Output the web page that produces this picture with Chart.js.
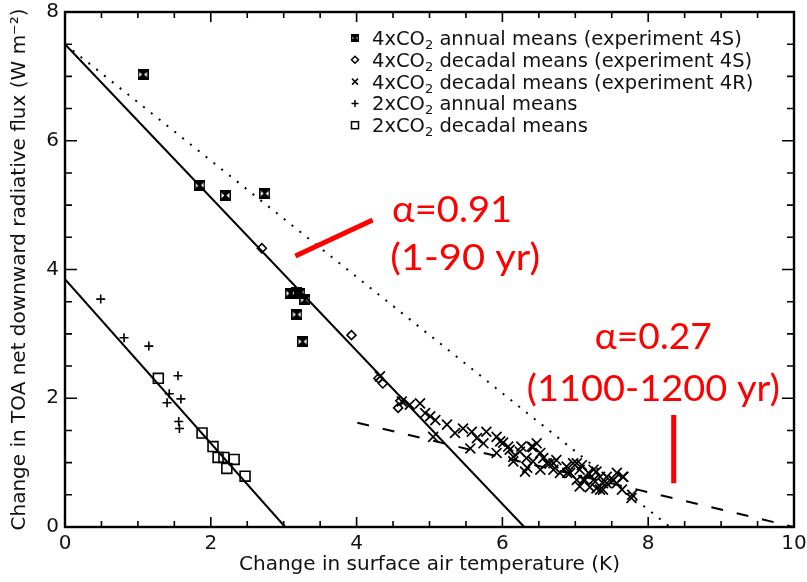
<!DOCTYPE html>
<html>
<head>
<meta charset="utf-8">
<script src="https://cdn.jsdelivr.net/npm/chart.js@4.4.1/dist/chart.umd.min.js"></script>
<style>
  html, body { margin: 0; padding: 0; background: #fff; }
  #wrap { width: 807px; height: 582px; }
</style>
</head>
<body>
<div id="wrap"><canvas id="chart" width="807" height="582"></canvas></div>
<script>
// 4xCO2 annual means (experiment 4S)
const ann4S_T = [1.07, 1.85, 2.20, 2.74, 3.09, 3.18, 3.22, 3.29, 3.18, 3.26];
const ann4S_F = [7.03, 5.31, 5.15, 5.18, 3.63, 3.64, 3.63, 3.53, 3.30, 2.88];

// 4xCO2 decadal means (experiment 4S)
const dec4S_T = [2.70, 3.93, 4.30, 4.36, 4.60, 4.57];
const dec4S_F = [4.33, 2.98, 2.31, 2.23, 1.96, 1.85];

// 4xCO2 decadal means (experiment 4R)
const dec4R_T = [4.32, 4.62, 4.73, 4.87, 4.94, 5.01, 5.08, 5.24, 5.05, 5.35, 5.46, 5.58, 5.65, 5.78,
  5.74, 5.56, 5.97, 5.92, 6.10, 6.24, 6.40, 6.33, 6.31, 6.52, 6.61, 6.74, 6.70, 6.88, 6.97, 7.06,
  7.06, 7.18, 7.29, 7.38, 7.43, 7.52, 7.66, 7.77, 7.25, 7.34, 7.13, 6.79, 6.52, 6.42, 6.01, 6.42,
  6.34, 6.65, 7.02, 7.11, 7.34, 7.38, 7.65, 7.78, 6.15, 6.89, 7.20, 7.52,
  6.08, 6.26, 6.56, 6.70, 6.93, 7.02, 7.25, 7.43, 7.57, 7.64, 7.29, 7.57, 7.09, 6.15, 5.92, 6.47];
const dec4R_F = [2.34, 1.95, 1.90, 1.92, 1.77, 1.72, 1.66, 1.59, 1.40, 1.46, 1.53, 1.48, 1.38, 1.48,
  1.30, 1.22, 1.33, 1.15, 1.20, 1.17, 1.25, 1.07, 0.86, 1.15, 0.99, 1.04, 0.89, 0.94, 0.99, 0.89,
  0.63, 0.84, 0.86, 0.68, 0.78, 0.73, 0.78, 0.45, 0.73, 0.58, 0.73, 0.84, 0.89, 1.02, 1.31, 1.24,
  0.92, 0.99, 0.99, 0.73, 0.78, 0.58, 0.78, 0.50, 1.09, 0.84, 0.62, 0.73,
  1.25, 1.25, 1.07, 0.99, 0.84, 0.73, 0.89, 0.68, 0.68, 0.58, 0.60, 0.84, 0.96, 1.02, 1.40, 1.30];

// 2xCO2 annual means
const ann2x_T = [0.49, 0.81, 1.15, 1.55, 1.43, 1.40, 1.59, 1.56, 1.57];
const ann2x_F = [3.54, 2.94, 2.81, 2.35, 2.07, 1.93, 1.99, 1.64, 1.53];

// 2xCO2 decadal means
const dec2x_T = [1.28, 1.88, 2.03, 2.10, 2.18, 2.22, 2.32, 2.47];
const dec2x_F = [2.31, 1.46, 1.25, 1.08, 1.08, 0.91, 1.05, 0.79];

// regression lines (end points)
const fit4x_T = [0, 6.30];
const fit4x_F = [7.50, 0];
const fit2x_T = [0, 3.02];
const fit2x_F = [3.85, 0];
const early_T = [0, 8.30];
const early_F = [7.50, 0];
const late_T = [4.01, 10];
const late_F = [1.62, 0];

// red pointer marks
const ptr1_T = [3.16, 4.22];
const ptr1_F = [4.21, 4.77];
const ptr2_T = [8.35, 8.35];
const ptr2_F = [1.74, 0.68];

const xTicks = [0, 2, 4, 6, 8, 10];
const yTicks = [0, 2, 4, 6, 8];

const pts = (xs, ys) => xs.map((v, i) => ({ x: v, y: ys[i] }));

function bowtie(s) {
  const c = document.createElement('canvas');
  c.width = s; c.height = s;
  const g = c.getContext('2d');
  g.fillStyle = '#000';
  g.beginPath(); g.moveTo(0, 0); g.lineTo(s, 0); g.lineTo(s / 2, s / 2); g.closePath(); g.fill();
  g.beginPath(); g.moveTo(0, s); g.lineTo(s, s); g.lineTo(s / 2, s / 2); g.closePath(); g.fill();
  g.strokeStyle = '#000'; g.lineWidth = 1.6;
  g.strokeRect(0.8, 0.8, s - 1.6, s - 1.6);
  g.beginPath(); g.moveTo(0, 0); g.lineTo(s, s); g.moveTo(s, 0); g.lineTo(0, s); g.stroke();
  return c;
}
const bowBig = bowtie(11);
const bowSmall = bowtie(8);

const legendRows = [
  { pre: '4x', rest: ' annual means (experiment 4S)', mark: 'bow' },
  { pre: '4x', rest: ' decadal means (experiment 4S)', mark: 'diamond' },
  { pre: '4x', rest: ' decadal means (experiment 4R)', mark: 'x' },
  { pre: '2x', rest: ' annual means', mark: 'plus' },
  { pre: '2x', rest: ' decadal means', mark: 'square' }
];

const notes = [
  { text: 'α=0.91', x: 5.31, y: 4.93, w: 120 },
  { text: '(1-90 yr)', x: 5.49, y: 4.18, w: 150 },
  { text: 'α=0.27', x: 8.07, y: 2.95, w: 117 },
  { text: '(1100-1200 yr)', x: 8.07, y: 2.15, w: 253 }
];

// frame + inward ticks on all four sides
const frameTicks = {
  id: 'frameTicks',
  afterDatasetsDraw(chart) {
    const { ctx, chartArea: a, scales: { x, y } } = chart;
    ctx.save();
    ctx.strokeStyle = '#000';
    ctx.lineWidth = 1.6;
    ctx.beginPath();
    for (let v = 0; v <= 10; v += 0.5) {
      const px = x.getPixelForValue(v);
      const len = v % 2 === 0 ? 10 : 6;
      ctx.moveTo(px, a.bottom); ctx.lineTo(px, a.bottom - len);
      ctx.moveTo(px, a.top); ctx.lineTo(px, a.top + len);
    }
    for (let v = 0; v <= 8; v += 0.5) {
      const py = y.getPixelForValue(v);
      const len = v % 2 === 0 ? 12 : 7;
      ctx.moveTo(a.left, py); ctx.lineTo(a.left + len, py);
      ctx.moveTo(a.right, py); ctx.lineTo(a.right - len, py);
    }
    ctx.stroke();
    ctx.lineWidth = 2.4;
    ctx.strokeRect(a.left, a.top, a.right - a.left, a.bottom - a.top);
    ctx.restore();
  }
};

// legend box top-right and red notes
const extras = {
  id: 'extras',
  afterDraw(chart) {
    const { ctx, chartArea: a, scales: { x, y } } = chart;
    ctx.save();
    const mx = a.left + 290, tx = a.left + 307;
    legendRows.forEach((r, i) => {
      const cy = a.top + 26 + i * 21.8;
      ctx.strokeStyle = '#000'; ctx.fillStyle = '#000'; ctx.lineWidth = 1.5;
      ctx.beginPath();
      if (r.mark === 'bow') {
        ctx.drawImage(bowSmall, mx - 4, cy - 4);
      } else if (r.mark === 'diamond') {
        ctx.moveTo(mx - 3.5, cy); ctx.lineTo(mx, cy - 3.5); ctx.lineTo(mx + 3.5, cy); ctx.lineTo(mx, cy + 3.5);
        ctx.closePath(); ctx.stroke();
      } else if (r.mark === 'x') {
        ctx.moveTo(mx - 3, cy - 3); ctx.lineTo(mx + 3, cy + 3);
        ctx.moveTo(mx + 3, cy - 3); ctx.lineTo(mx - 3, cy + 3); ctx.stroke();
      } else if (r.mark === 'plus') {
        ctx.moveTo(mx - 3.5, cy); ctx.lineTo(mx + 3.5, cy);
        ctx.moveTo(mx, cy - 3.5); ctx.lineTo(mx, cy + 3.5); ctx.stroke();
      } else {
        ctx.strokeRect(mx - 3.5, cy - 3.5, 7, 7);
      }
      ctx.fillStyle = '#111';
      ctx.textBaseline = 'alphabetic';
      ctx.font = '19.5px "DejaVu Sans"';
      const base = cy + 7;
      let cx = tx;
      const head = r.pre + 'CO';
      ctx.fillText(head, cx, base);
      cx += ctx.measureText(head).width;
      ctx.font = '13px "DejaVu Sans"';
      ctx.fillText('2', cx, base + 4);
      cx += ctx.measureText('2').width;
      ctx.font = '19.5px "DejaVu Sans"';
      ctx.fillText(r.rest, cx, base);
    });

    ctx.fillStyle = '#ff0000';
    ctx.textAlign = 'center';
    ctx.textBaseline = 'middle';
    ctx.font = '37px Lato';
    notes.forEach(n => {
      const w = ctx.measureText(n.text).width;
      ctx.save();
      ctx.translate(x.getPixelForValue(n.x), y.getPixelForValue(n.y));
      ctx.scale(n.w / w, 1);
      ctx.fillText(n.text, 0, 0);
      ctx.restore();
    });
    ctx.restore();
  }
};

const black = '#000';
const tickFont = { family: 'DejaVu Sans', size: 20 };

new Chart(document.getElementById('chart'), {
  type: 'scatter',
  data: {
    datasets: [
      { data: pts(ptr1_T, ptr1_F), showLine: true, borderColor: '#ff0000', borderWidth: 5, pointRadius: 0 },
      { data: pts(ptr2_T, ptr2_F), showLine: true, borderColor: '#ff0000', borderWidth: 5, pointRadius: 0 },
      { label: '4xCO2 annual means (experiment 4S)', data: pts(ann4S_T, ann4S_F),
        pointStyle: bowBig, pointRadius: 5 },
      { label: '4xCO2 decadal means (experiment 4S)', data: pts(dec4S_T, dec4S_F),
        pointStyle: 'rectRot', pointRadius: 4.5, borderColor: black, backgroundColor: 'rgba(0,0,0,0)', borderWidth: 1.6 },
      { label: '4xCO2 decadal means (experiment 4R)', data: pts(dec4R_T, dec4R_F),
        pointStyle: 'crossRot', pointRadius: 7, borderColor: black, borderWidth: 1.7 },
      { label: '2xCO2 annual means', data: pts(ann2x_T, ann2x_F),
        pointStyle: 'cross', pointRadius: 4.5, borderColor: black, borderWidth: 1.6 },
      { label: '2xCO2 decadal means', data: pts(dec2x_T, dec2x_F),
        pointStyle: 'rect', pointRadius: 7, borderColor: black, backgroundColor: 'rgba(0,0,0,0)', borderWidth: 1.6 },
      { data: pts(fit4x_T, fit4x_F), showLine: true, borderColor: black, borderWidth: 2, pointRadius: 0 },
      { data: pts(fit2x_T, fit2x_F), showLine: true, borderColor: black, borderWidth: 2, pointRadius: 0 },
      { data: pts(early_T, early_F), showLine: true, borderColor: black, borderWidth: 2, borderDash: [2, 8], pointRadius: 0 },
      { data: pts(late_T, late_F), showLine: true, borderColor: black, borderWidth: 2, borderDash: [12, 14], pointRadius: 0 }
    ]
  },
  options: {
    responsive: false,
    animation: false,
    devicePixelRatio: 1,
    layout: { padding: { top: 12, right: 13, left: 0, bottom: 0 } },
    plugins: { legend: { display: false }, tooltip: { enabled: false } },
    scales: {
      x: {
        type: 'linear', min: 0, max: 10,
        afterBuildTicks: s => { s.ticks = xTicks.map(v => ({ value: v })); },
        afterFit: s => { s.height = 55; s.paddingLeft = 0; s.paddingRight = 0; },
        grid: { display: false, drawTicks: false },
        border: { display: false },
        ticks: { font: tickFont, color: '#111', padding: 5, maxRotation: 0 },
        title: { display: true, text: 'Change in surface air temperature (K)', font: tickFont, color: '#111',
          padding: { top: 0, bottom: 5 } }
      },
      y: {
        type: 'linear', min: 0, max: 8,
        afterBuildTicks: s => { s.ticks = yTicks.map(v => ({ value: v })); },
        afterFit: s => { s.width = 65; s.paddingTop = 0; s.paddingBottom = 0; },
        grid: { display: false, drawTicks: false },
        border: { display: false },
        ticks: { font: tickFont, color: '#111', padding: 6 },
        title: { display: true, text: 'Change in TOA net downward radiative flux (W m⁻²)', font: tickFont, color: '#111',
          padding: { top: 8, bottom: 0 } }
      }
    }
  },
  plugins: [frameTicks, extras]
});
</script>
</body>
</html>
